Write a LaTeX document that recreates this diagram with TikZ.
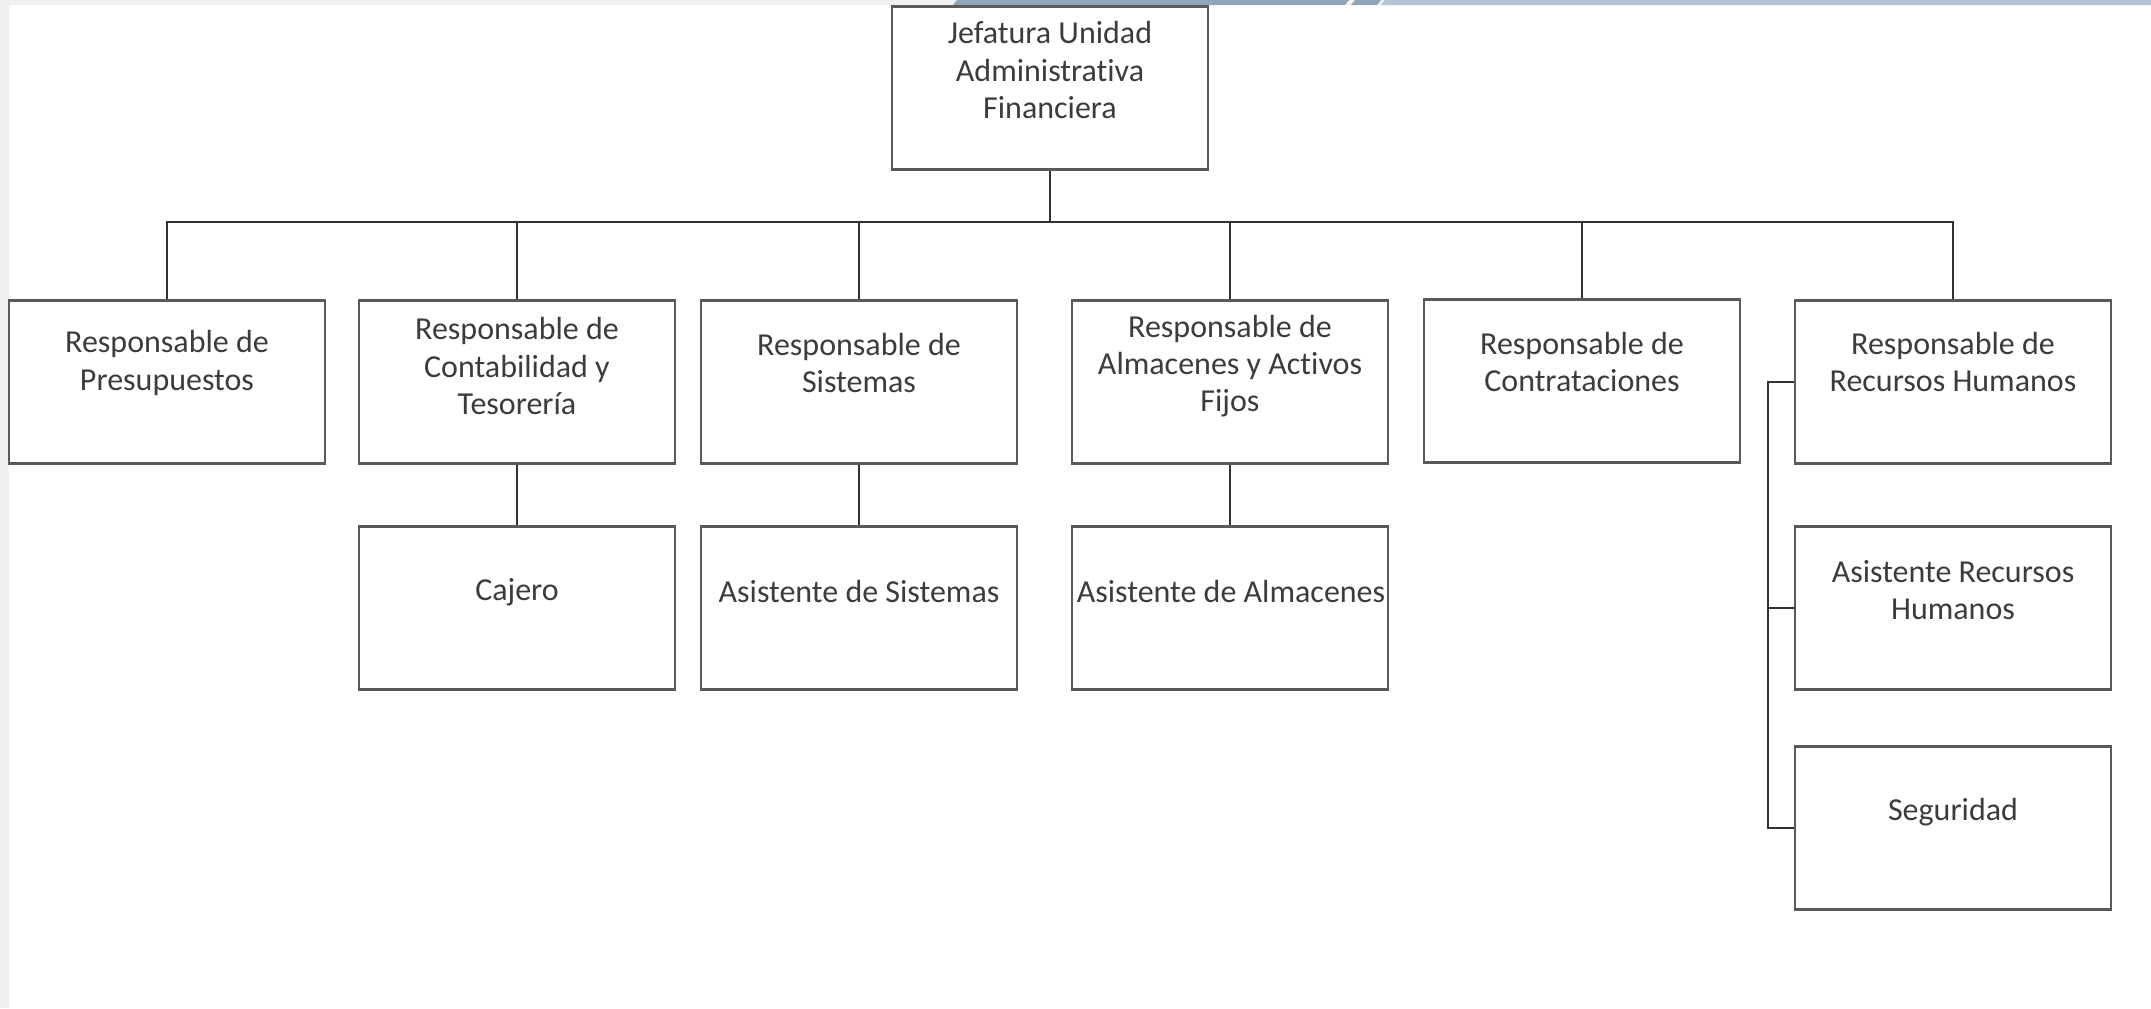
\documentclass[tikz,border=0pt]{standalone}
\usepackage{fontspec}
\setmainfont{Carlito}[Ligatures=NoCommon]
\definecolor{boxgray}{RGB}{90,90,90}
\definecolor{linegray}{RGB}{50,50,50}
\definecolor{txtgray}{RGB}{60,60,60}
\definecolor{margingray}{RGB}{240,240,240}
\definecolor{bannerdark}{RGB}{143,165,187}
\definecolor{bannerlight}{RGB}{180,195,210}
\tikzset{
  box/.style={draw=boxgray, line width=1.9pt, minimum width=237pt, minimum height=122pt, inner sep=0pt},
  lbl/.style={text=txtgray, align=center, font=\fontsize{24}{28}\selectfont, inner sep=0pt},
  link/.style={draw=linegray, line width=1.9pt}
}
\begin{document}
\begin{tikzpicture}[x=0.75pt,y=0.75pt,yscale=-1,xscale=1]
\useasboundingbox (0,0) rectangle (2151,1008);

%Background and frame strips
\fill[white] (0,0) rectangle (2151,1008);
\fill[margingray] (0,0) rectangle (9,1008);
\fill[margingray] (0,0) rectangle (2151,5);
\fill[bannerdark] (957,0) -- (1349,0) -- (1345,5) -- (953,5) -- cycle;
\fill[bannerdark] (1355,0) -- (1381,0) -- (1377,5) -- (1351,5) -- cycle;
\fill[bannerlight] (1385,0) -- (2151,0) -- (2151,5) -- (1381,5) -- cycle;

%Shape: Rectangle [top]
\draw (1050,88) node [box] (jefe) {};

%Shape: Rectangle [first level]
\draw (167,382) node [box] (pres) {};
\draw (517,382) node [box] (cont) {};
\draw (859,382) node [box] (sist) {};
\draw (1230,382) node [box] (alm) {};
\draw (1582,381) node [box] (contr) {};
\draw (1953,382) node [box] (rrhh) {};

%Shape: Rectangle [second level]
\draw (517,608) node [box] (caj) {};
\draw (859,608) node [box] (asissist) {};
\draw (1230,608) node [box] (asisalm) {};
\draw (1953,608) node [box] (asisrh) {};
\draw (1953,828) node [box] (seg) {};

%Straight Lines
\coordinate (bus) at (1050,222);
\draw [link] (jefe) -- (bus);
\foreach \n in {pres,cont,sist,alm,contr,rrhh}
  \draw [link] (bus) -| (\n.north);

%Straight Lines
\draw [link] (cont) -- (caj);
\draw [link] (sist) -- (asissist);
\draw [link] (alm) -- (asisalm);

%Straight Lines [bracket]
\coordinate (brk) at (1768,382);
\draw [link] (rrhh.west) -- (brk) |- (seg.west);
\draw [link] (asisrh.west) -- (asisrh.west -| brk);

% Text Node
\draw (1050,70) node [lbl] (jefetxt) {Jefatura Unidad\\Administrativa\\Financiera};
% Text Node
\draw (167,363) node [lbl] (prestxt) {Responsable de\\Presupuestos};
% Text Node
\draw (517,366) node [lbl] (conttxt) {Responsable de\\Contabilidad y\\Tesorería};
% Text Node
\draw (859,363) node [lbl] (sisttxt) {Responsable de\\Sistemas};
% Text Node
\draw (1230,366) node [lbl] (almtxt) {Responsable de\\Almacenes y Activos\\Fijos};
% Text Node
\draw (1582,362) node [lbl] (contrtxt) {Responsable de\\Contrataciones};
% Text Node
\draw (1953,362) node [lbl] (rrhhtxt) {Responsable de\\Recursos Humanos};
% Text Node
\draw (517,592) node [lbl] (cajtxt) {Cajero};
% Text Node
\draw (859,591) node [lbl] (asissisttxt) {Asistente de Sistemas};
% Text Node
\draw (1231,591) node [lbl] (asisalmtxt) {Asistente de Almacenes};
% Text Node
\draw (1953,590) node [lbl] (asisrhtxt) {Asistente Recursos\\Humanos};
% Text Node
\draw (1953,812) node [lbl] (segtxt) {Seguridad};

\end{tikzpicture}
\end{document}
